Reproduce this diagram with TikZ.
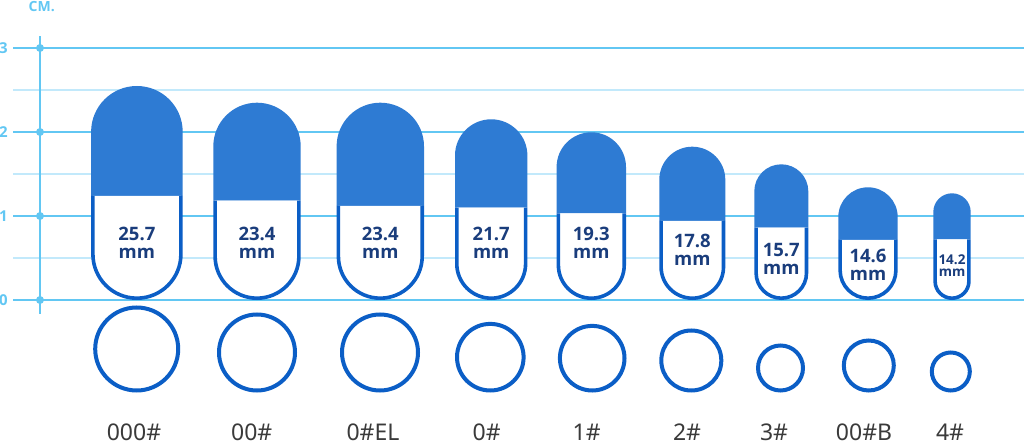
\documentclass[tikz,border=0pt]{standalone}
\usepackage{fontspec}
\setmainfont{Noto Sans}
\newfontfamily\gruesa{Open Sans}
\definecolor{capAzul}{HTML}{2E7BD3}
\definecolor{capBorde}{HTML}{0B5EC6}
\definecolor{capTexto}{HTML}{1A3D7C}
\definecolor{rejilla}{HTML}{62C7F3}
\definecolor{rejillaSuave}{HTML}{C2E9FB}
\definecolor{etiqueta}{HTML}{3A3A3A}

\begin{document}
\begin{tikzpicture}[x=1pt,y=1pt,line width=2pt]
        \useasboundingbox (0,0) rectangle (1024,444);
        % rejilla en cm, capsulas encima
        \foreach \y in {186,270,354} {\draw[rejillaSuave] (13,\y)--(1024,\y);}
        \foreach \y/\v in {144/0,228/1,312/2,396/3}
          {\draw[rejilla] (13,\y)--(1024,\y); \fill[rejilla] (40,\y) circle (4);
           \node[font=\fontsize{15}{15}\gruesa\bfseries,text=rejilla,inner sep=0] (eje\v) at (3.5,\y) {\v};}
        \draw[rejilla] (40,130)--(40,408);
        \node[font=\fontsize{14}{14}\gruesa\bfseries,text=rejilla,inner sep=1] (unidad) at (41.7,437.5) {CM.};
        \foreach \cx/\r/\t/\s/\ty/\med/\fs/\ls [count=\i] in {136.9/45.8/358/248/201.5/25.7/18.5/18.3,
            257/43.7/341.3/243.3/201/23.4/18.5/18.3, 380.3/43.7/341.3/238/201.5/23.4/18.5/18.3,
            491.2/36.2/324.7/236.3/201/21.7/18.5/18.3, 591.3/34.7/311.7/230.7/201/19.3/18.5/18.3,
            692.3/33/297.3/223/194/17.8/18.5/18.3, 781.3/27/279.7/216.3/185/15.7/18.5/18.3,
            868/29.7/256.7/204/179.5/14.6/18.5/18.3, 952/18.7/250.7/204.7/178.7/14.2/13.5/11.7}
          {\fill[capAzul] (\cx-\r,\s) -- (\cx-\r,\t-\r) arc[start angle=180,end angle=0,radius=\r] -- (\cx+\r,\s) -- cycle;
           \draw[capBorde,line width=3.6pt,fill=white] (\cx-\r+1.8,\s) -- (\cx-\r+1.8,144+\r)
             arc[start angle=180,end angle=360,radius={\r-1.8}] -- (\cx+\r-1.8,\s);
           \node[font=\fontsize{\fs}{\ls}\gruesa\bfseries,text=capTexto,align=center,inner sep=0]
             (med\i) at (\cx,\ty) {\med\\mm};}
        \foreach \cx/\r/\lx/\nom [count=\i] in {136.7/43.5/134/000\#, 257/40/251.7/00\#, 380/40/373/0\#EL,
            490.3/35.3/486.7/0\#, 592.2/34.3/586.7/1\#, 691.3/32/687/2\#, 780.5/24.5/774/3\#,
            868.8/27/864/00\#B, 950.8/21/950/4\#}
          {\node[circle,draw=capBorde,line width=4pt,inner sep=0,minimum size={2*\r-4}] (boca\i) at (\cx,51.5+\r) {};
           \node[font=\fontsize{23}{23}\selectfont,text=etiqueta,anchor=base,inner sep=0] (tam\i) at (\lx,3.5) {\nom};}
      \end{tikzpicture}
\end{document}
